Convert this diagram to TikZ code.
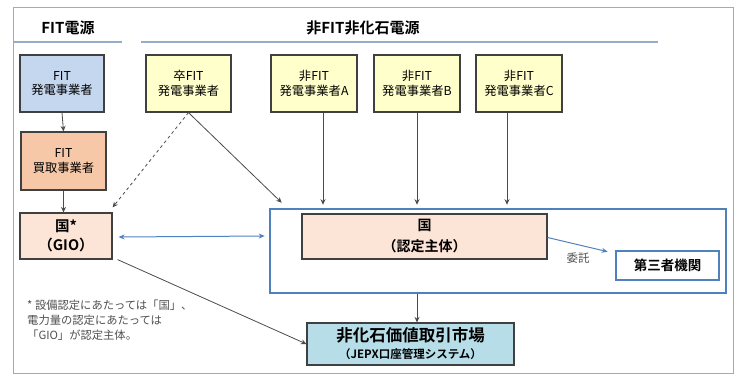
\documentclass[tikz,border=0pt]{standalone}
\usepackage{fontspec}
\setmainfont{Noto Sans CJK JP}[BoldFont={Noto Sans CJK JP Bold}]
\usetikzlibrary{arrows.meta,positioning}
\definecolor{frameblue}{RGB}{79,129,189}
\definecolor{lineblue}{RGB}{150,172,200}
\definecolor{boxline}{RGB}{64,64,64}
\definecolor{conn}{RGB}{75,75,75}
\definecolor{fitblue}{RGB}{197,215,238}
\definecolor{fitorange}{RGB}{247,200,168}
\definecolor{lightorange}{RGB}{252,228,214}
\definecolor{paleyellow}{RGB}{255,255,204}
\definecolor{teal}{RGB}{183,222,232}
\definecolor{textgray}{RGB}{80,80,80}
\tikzset{
  boxbase/.style={draw=boxline, line width=1.2pt, inner sep=0pt, align=center, text=black},
  smallbox/.style={boxbase, minimum width=85pt, minimum height=57pt, font=\fontsize{12.3}{14.5}\selectfont},
  conarrow/.style={draw=conn, line width=0.8pt, -{Stealth[length=5.5pt,width=5pt]}},
  header/.style={font=\fontsize{15}{17}\bfseries\selectfont, text=black},
  uline/.style={draw=lineblue, line width=1.8pt},
}
\begin{document}
\begin{tikzpicture}[x=1pt,y=-1pt]
\useasboundingbox (0,0) rectangle (741,381);
% outer frame
\node[draw=lineblue, line width=1pt, minimum width=720pt, minimum height=366pt, inner sep=0pt] (outer) at (373,190) {};
% headers
\node[header] (h1) at (68,28) {FIT電源};
\node[header] (h2) at (363,28) {非FIT非化石電源};
\coordinate (u1a) at (13,42); \coordinate (u1b) at (122,42);
\coordinate (u2a) at (141,42); \coordinate (u2b) at (658,42);
\draw[uline] (u1a) -- (u1b);
\draw[uline] (u2a) -- (u2b);
% top row boxes
\node[smallbox, fill=fitblue, minimum width=84pt] (fitgen) at (62,83.5) {FIT\\発電事業者};
\node[smallbox, fill=fitorange, minimum height=58pt] (fitbuy) at (63.5,161) {FIT\\買取事業者};
\node[smallbox, fill=paleyellow] (sotsu) at (188.5,83.5) {卒FIT\\発電事業者};
\node[smallbox, fill=paleyellow, minimum width=86pt] (genA) at (314,83.5) {非FIT\\発電事業者A};
\node[smallbox, fill=paleyellow, minimum width=86pt] (genB) at (417,83.5) {非FIT\\発電事業者B};
\node[smallbox, fill=paleyellow, minimum width=86pt] (genC) at (519,83.5) {非FIT\\発電事業者C};
% GIO
\node[boxbase, fill=lightorange, minimum width=92pt, minimum height=46pt, font=\fontsize{14.5}{19.5}\bfseries\selectfont] (gio) at (66,236) {国*\\（GIO）};
% big frame
\node[draw=frameblue, line width=2.6pt, minimum width=456pt, minimum height=84pt, inner sep=0pt] (frame) at (498,251) {};
\node[boxbase, fill=lightorange, minimum width=245pt, minimum height=45pt, font=\fontsize{14}{21}\bfseries\selectfont] (kuni) at (424.5,236.5) {国\\（認定主体）};
\node[draw=frameblue, line width=2.6pt, fill=white, minimum width=103pt, minimum height=29pt, inner sep=0pt, font=\fontsize{13.5}{16}\bfseries\selectfont] (third) at (667.5,265.5) {第三者機関};
% market
\node[boxbase, fill=teal, minimum width=207pt, minimum height=42pt, font=\fontsize{16.5}{18}\bfseries\selectfont] (market) at (410.5,344) {非化石価値取引市場\\[-1pt]{\fontsize{11.5}{13}\bfseries\selectfont（JEPX口座管理システム）}};
% note
\node[anchor=north west, align=left, inner sep=0pt, text=textgray, font=\fontsize{11.3}{15}\selectfont] (note) at (27,300) {* 設備認定にあたっては「国」、\\電力量の認定にあたっては\\「GIO」が認定主体。};
% 委託 label
\node[text=textgray, font=\fontsize{11.5}{13}\selectfont] (itaku) at (578,258) {委託};
% connectors
\draw[conarrow] (fitgen.south) -- (fitbuy.north);
\draw[conarrow] (fitbuy.south) -- (gio.north -| fitbuy.south);
\draw[conarrow, dashed] (sotsu.south) -- ([yshift=5pt]gio.north east);
\draw[conarrow] (sotsu.south) -- ([xshift=13pt,yshift=5pt]frame.north west);
\draw[conarrow] ([xshift=9pt]genA.south) -- ([xshift=9pt,yshift=3pt]genA.south |- frame.north);
\draw[conarrow] (genB.south) -- ([yshift=3pt]genB.south |- frame.north);
\draw[conarrow] ([xshift=-12pt]genC.south) -- ([xshift=-12pt,yshift=3pt]genC.south |- frame.north);
\draw[draw=frameblue, line width=1pt, {Stealth[length=6pt,width=5pt]}-{Stealth[length=6pt,width=5pt]}] ([xshift=6pt,yshift=-1pt]gio.east) -- ([xshift=-4pt]gio.east -| frame.west);
\draw[draw=frameblue, line width=1pt, -{Stealth[length=6pt,width=5pt]}] ([yshift=-1pt]kuni.east) -- ([xshift=-7pt,yshift=-2pt]third.north west);
\draw[conarrow] (genB.south |- frame.south) -- (genB.south |- market.north);
\draw[conarrow] ([xshift=5pt]gio.south east) -- (market.west);
\end{tikzpicture}
\end{document}
